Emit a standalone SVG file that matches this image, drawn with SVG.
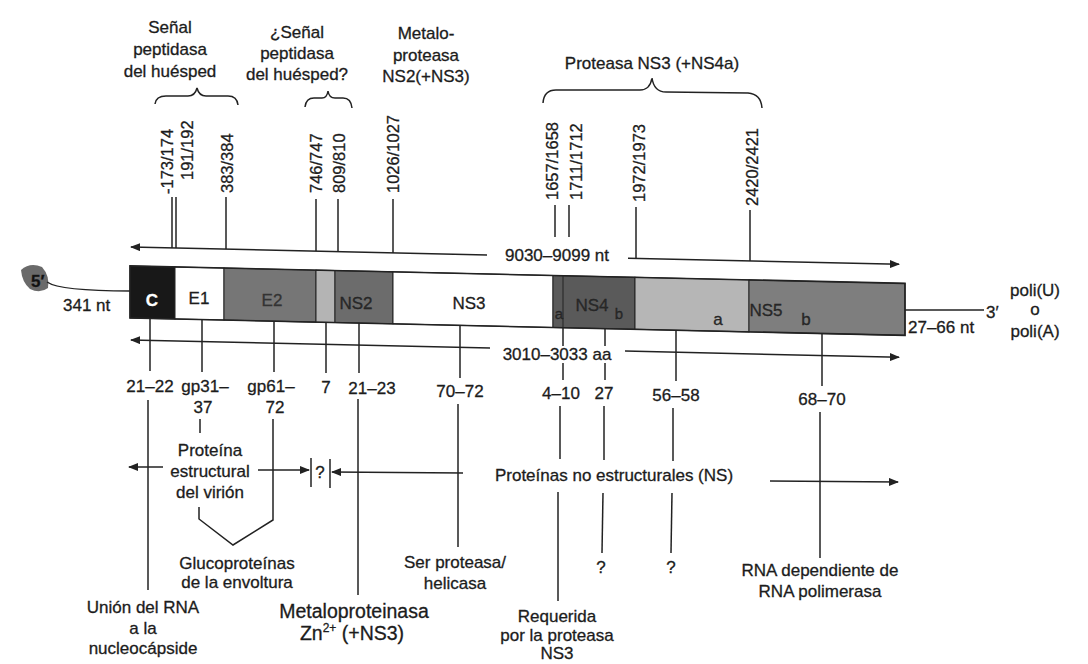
<svg xmlns="http://www.w3.org/2000/svg" width="1088" height="664" viewBox="0 0 1088 664">
<defs>
<style>
.t{font-family:"Liberation Sans",Arial,Helvetica,sans-serif;font-size:17px;fill:#1c1c1c;stroke:#1c1c1c;stroke-width:0.3}
.m{text-anchor:middle}
.n{font-size:16.5px}
.s{font-size:15px}
.big{font-size:19.5px}
.ln{stroke:#222;stroke-width:1.5;fill:none}
.seg{stroke:#222;stroke-width:1}
</style>
<marker id="ah" viewBox="0 0 10 8" refX="9" refY="4" markerWidth="10" markerHeight="8" markerUnits="userSpaceOnUse" orient="auto"><path d="M0,0 L10,4 L0,8 z" fill="#222"/></marker>
</defs>
<rect width="1088" height="664" fill="#fff"/>

<!-- top function labels -->
<g id="lbl-senal">
<text class="t m" x="170" y="33">Señal</text>
<text class="t m" x="170" y="55">peptidasa</text>
<text class="t m" x="170" y="77">del huésped</text>
<path class="ln" d="M155,104 Q156,96 166,96 L188,96 Q195,96 197,88 Q199,96 206,96 L228,96 Q237,96 238,105"/>
</g>
<g id="lbl-senal2">
<text class="t m" x="297" y="38">¿Señal</text>
<text class="t m" x="297" y="59">peptidasa</text>
<text class="t m" x="297" y="80">del huésped?</text>
<path class="ln" d="M305,107 Q306,98 314,98 L322,98 Q327,98 328,91 Q329,98 335,98 L343,98 Q351,98 352,108"/>
</g>
<g id="lbl-metalo">
<text class="t m" x="426" y="39">Metalo-</text>
<text class="t m" x="426" y="61">proteasa</text>
<text class="t m" x="426" y="82">NS2(+NS3)</text>
</g>
<g id="lbl-ns3prot">
<text class="t m" x="652" y="69">Proteasa NS3 (+NS4a)</text>
<path class="ln" d="M543,103 Q544,90 556,90 L640,90 Q650,90 652,78 Q654,92 666,92 L748,93 Q761,94 762,108"/>
</g>

<!-- cleavage site numbers -->
<g id="sites">
<text class="t n" transform="translate(173,194) rotate(-90)">-173/174</text>
<text class="t n" transform="translate(193,180) rotate(-90)">191/192</text>
<text class="t n" transform="translate(233,193) rotate(-90)">383/384</text>
<text class="t n" transform="translate(322,193) rotate(-90)">746/747</text>
<text class="t n" transform="translate(345,193) rotate(-90)">809/810</text>
<text class="t n" transform="translate(399,193) rotate(-90)">1026/1027</text>
<text class="t n" transform="translate(558,200) rotate(-90)">1657/1658</text>
<text class="t n" transform="translate(582,200) rotate(-90)">1711/1712</text>
<text class="t n" transform="translate(645,202) rotate(-90)">1972/1973</text>
<text class="t n" transform="translate(758,206) rotate(-90)">2420/2421</text>
</g>

<!-- genome bar -->
<g id="genome">
<g transform="skewY(1.29)">
<rect id="seg-C" class="seg" x="130" y="263" width="45" height="52" fill="#181818"/>
<rect id="seg-E1" class="seg" x="175" y="263" width="49" height="52" fill="#ffffff"/>
<rect id="seg-E2" class="seg" x="224" y="263" width="92" height="52" fill="#767676"/>
<rect id="seg-p7" class="seg" x="316" y="263" width="19" height="52" fill="#b4b4b4"/>
<rect id="seg-NS2" class="seg" x="335" y="263" width="58" height="52" fill="#6c6c6c"/>
<rect id="seg-NS3" class="seg" x="393" y="263" width="160" height="52" fill="#ffffff"/>
<rect id="seg-NS4" class="seg" x="553" y="263" width="82" height="52" fill="#5a5a5a"/>
<line class="seg" x1="563" y1="263" x2="563" y2="315"/>
<rect id="seg-NS5a" class="seg" x="635" y="263" width="114" height="52" fill="#b6b6b6"/>
<rect id="seg-NS5b" class="seg" x="749" y="263" width="156" height="52" fill="#7e7e7e"/>
<rect x="130" y="263" width="775" height="52" fill="none" stroke="#222" stroke-width="1.6"/>
</g>
<text class="t m" x="152" y="306" style="fill:#fff;stroke:#fff;font-weight:bold">C</text>
<text class="t m" x="199" y="304">E1</text>
<text class="t m" x="272" y="306" style="fill:#333;stroke:#333">E2</text>
<text class="t m" x="356" y="309" style="fill:#2a2a2a">NS2</text>
<text class="t m" x="469" y="309">NS3</text>
<text class="t m" x="592" y="311" style="fill:#2a2a2a">NS4</text>
<text class="t m s" x="559" y="319" style="fill:#2a2a2a">a</text>
<text class="t m s" x="619" y="319" style="fill:#2a2a2a">b</text>
<text class="t m" x="718" y="325" style="fill:#2a2a2a">a</text>
<text class="t m" x="766" y="316" style="fill:#2a2a2a">NS5</text>
<text class="t m" x="806" y="325" style="fill:#2a2a2a">b</text>
</g>

<!-- ends -->
<g id="end5">
<path d="M21,270 Q30,262 42,267 Q50,276 48,288 Q40,294 30,289 Q22,282 21,270 z" fill="#6a6a6a"/>
<text class="t" x="31" y="287" style="font-weight:bold;fill:#111">5′</text>
<path class="ln" d="M47,282 Q60,291 130,291"/>
<text class="t" x="63" y="311">341 nt</text>
</g>
<g id="end3">
<line class="ln" x1="905" y1="310" x2="984" y2="310"/>
<text class="t" x="986" y="318">3′</text>
<text class="t" x="908" y="333">27–66 nt</text>
<text class="t m" x="1035" y="296">poli(U)</text>
<text class="t m" x="1035" y="315">o</text>
<text class="t m" x="1035" y="337">poli(A)</text>
</g>

<!-- length labels -->
<g id="len-nt">
<text class="t m" x="557" y="261">9030–9099 nt</text>
</g>
<g id="len-aa">
<text class="t m" x="557" y="360">3010–3033 aa</text>
</g>

<!-- protein size labels -->
<g id="sizes">
<text class="t m" x="150" y="392">21–22</text>
<text class="t m" x="205" y="392">gp31–</text>
<text class="t m" x="203" y="413">37</text>
<text class="t m" x="271" y="392">gp61–</text>
<text class="t m" x="275" y="413">72</text>
<text class="t m" x="326" y="393">7</text>
<text class="t m" x="372" y="394">21–23</text>
<text class="t m" x="460" y="397">70–72</text>
<text class="t m" x="561" y="399">4–10</text>
<text class="t m" x="604" y="399">27</text>
<text class="t m" x="676" y="401">56–58</text>
<text class="t m" x="822" y="405">68–70</text>
</g>

<!-- function labels bottom -->
<g id="lbl-union">
<text class="t m" x="143" y="613">Unión del RNA</text>
<text class="t m" x="143" y="634">a la</text>
<text class="t m" x="143" y="654">nucleocápside</text>
</g>
<g id="lbl-estructural">
<text class="t m" x="210" y="456">Proteína</text>
<text class="t m" x="210" y="477">estructural</text>
<text class="t m" x="210" y="498">del virión</text>
</g>
<g id="lbl-gluco">
<text class="t m" x="237" y="569">Glucoproteínas</text>
<text class="t m" x="237" y="588">de la envoltura</text>
</g>
<g id="lbl-q-boundary">
<text class="t m" x="320" y="478">?</text>
</g>
<g id="lbl-metaloprot">
<text class="t m big" x="354" y="618">Metaloproteinasa</text>
<text class="t m big" x="352" y="640">Zn<tspan dy="-8" font-size="12">2+</tspan><tspan dy="8"> (+NS3)</tspan></text>
</g>
<g id="lbl-serprot">
<text class="t m" x="455" y="568">Ser proteasa/</text>
<text class="t m" x="455" y="589">helicasa</text>
</g>
<g id="lbl-ns">
<text class="t m" x="614" y="481">Proteínas no estructurales (NS)</text>
</g>
<g id="lbl-requerida">
<text class="t m" x="557" y="622">Requerida</text>
<text class="t m" x="557" y="641">por la proteasa</text>
<text class="t m" x="557" y="659">NS3</text>
</g>
<g id="lbl-q1"><text class="t m" x="601" y="573">?</text></g>
<g id="lbl-q2"><text class="t m" x="671" y="573">?</text></g>
<g id="lbl-rdrp">
<text class="t m" x="820" y="576">RNA dependiente de</text>
<text class="t m" x="820" y="597">RNA polimerasa</text>
</g>

<!-- connectors -->
<g id="connectors">
<g transform="skewY(1.29)">
<line class="ln" x1="487" y1="244" x2="131" y2="244" marker-end="url(#ah)"/>
<line class="ln" x1="628" y1="244" x2="899" y2="244" marker-end="url(#ah)"/>
<line class="ln" x1="490" y1="337" x2="131" y2="337" marker-end="url(#ah)"/>
<line class="ln" x1="625" y1="337" x2="899" y2="337" marker-end="url(#ah)"/>
</g>
<!-- top ticks -->
<line class="ln" x1="172" y1="197" x2="172" y2="248"/>
<line class="ln" x1="176" y1="197" x2="176" y2="248"/>
<line class="ln" x1="226" y1="197" x2="226" y2="249"/>
<line class="ln" x1="316" y1="199" x2="316" y2="251"/>
<line class="ln" x1="338" y1="199" x2="338" y2="252"/>
<line class="ln" x1="393" y1="199" x2="393" y2="253"/>
<line class="ln" x1="555" y1="205" x2="555" y2="237"/>
<line class="ln" x1="569" y1="205" x2="569" y2="237"/>
<line class="ln" x1="636" y1="207" x2="636" y2="258"/>
<line class="ln" x1="750" y1="210" x2="750" y2="261"/>
<!-- bar ticks -->
<line class="ln" x1="150" y1="318" x2="150" y2="371"/>
<line class="ln" x1="202" y1="320" x2="202" y2="372"/>
<line class="ln" x1="274" y1="321" x2="274" y2="372"/>
<line class="ln" x1="326" y1="322" x2="326" y2="373"/>
<line class="ln" x1="359" y1="323" x2="359" y2="373"/>
<line class="ln" x1="460" y1="325" x2="460" y2="378"/>
<line class="ln" x1="563" y1="328" x2="563" y2="346"/>
<line class="ln" x1="563" y1="363" x2="563" y2="380"/>
<line class="ln" x1="605" y1="329" x2="605" y2="346"/>
<line class="ln" x1="605" y1="363" x2="605" y2="380"/>
<line class="ln" x1="676" y1="330" x2="676" y2="381"/>
<line class="ln" x1="822" y1="334" x2="822" y2="386"/>
<!-- lower leads -->
<line class="ln" x1="148" y1="400" x2="148" y2="590"/>
<line class="ln" x1="200" y1="419" x2="200" y2="433"/>
<path class="ln" d="M273,419 V520 L233,545 L199,519 V507"/>
<line class="ln" x1="358" y1="399" x2="358" y2="595"/>
<line class="ln" x1="458" y1="404" x2="458" y2="547"/>
<line class="ln" x1="560" y1="406" x2="560" y2="459"/>
<line class="ln" x1="558" y1="492" x2="558" y2="601"/>
<line class="ln" x1="604" y1="406" x2="604" y2="460"/>
<line class="ln" x1="603" y1="493" x2="602" y2="553"/>
<line class="ln" x1="673" y1="408" x2="673" y2="461"/>
<line class="ln" x1="672" y1="493" x2="671" y2="553"/>
<line class="ln" x1="820" y1="412" x2="820" y2="558"/>
<!-- bottom arrows -->
<line class="ln" x1="163" y1="467" x2="129" y2="467" marker-end="url(#ah)"/>
<line class="ln" x1="258" y1="470" x2="309" y2="470" marker-end="url(#ah)"/>
<line class="ln" x1="311" y1="458" x2="311" y2="487"/>
<line class="ln" x1="330" y1="459" x2="330" y2="488"/>
<line class="ln" x1="463" y1="473" x2="332" y2="472" marker-end="url(#ah)"/>
<line class="ln" x1="770" y1="481" x2="898" y2="482" marker-end="url(#ah)"/>
</g>
</svg>
